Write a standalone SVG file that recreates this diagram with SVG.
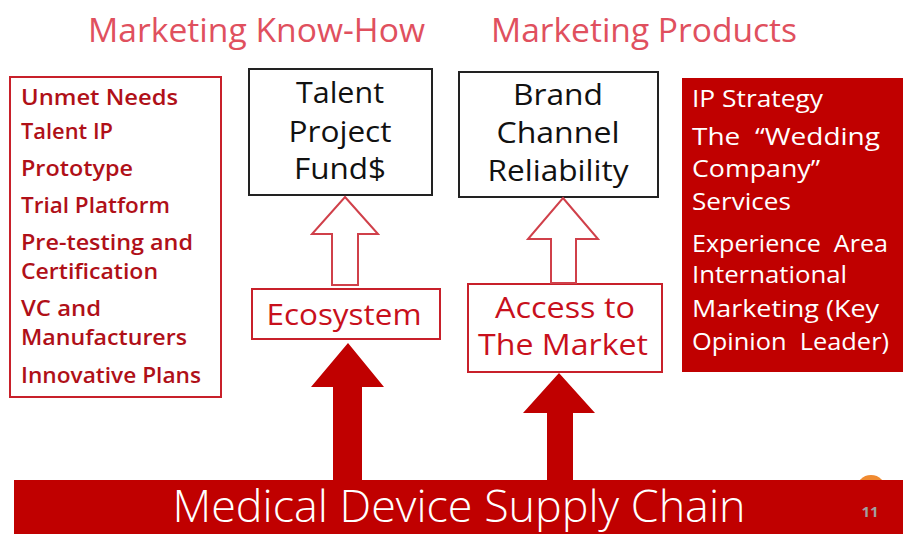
<svg xmlns="http://www.w3.org/2000/svg" width="903" height="534" viewBox="0 0 903 534">
<style>
text{font-family:"Open Sans","Noto Sans","Liberation Sans",sans-serif}
.title{font-size:32px;fill:#e0505e}
.lst{font-size:21px;fill:#b01018;font-weight:600}
.wht{font-size:24px;fill:#ffffff}
.blk{font-size:30px;fill:#111111;text-anchor:middle}
.red{font-size:30px;fill:#c8101c;text-anchor:middle}
.rbox{fill:#ffffff;stroke:#c8202a;stroke-width:2}
.kbox{fill:#ffffff;stroke:#222222;stroke-width:2}
.oarrow{fill:#ffffff;stroke:#d0404a;stroke-width:2}
.sarrow{fill:#c00000}
</style>
<rect width="903" height="534" fill="#ffffff"/>
<g id="titles">
<text class="title" x="88" y="42" textLength="337" lengthAdjust="spacingAndGlyphs">Marketing Know-How</text>
<text class="title" x="491" y="42" textLength="306" lengthAdjust="spacingAndGlyphs">Marketing Products</text>
</g>
<g id="left-list">
<rect class="rbox" x="10" y="77" width="211" height="320"/>
<text class="lst" x="21" y="105" textLength="157" lengthAdjust="spacingAndGlyphs">Unmet Needs</text>
<text class="lst" x="21" y="139" textLength="92" lengthAdjust="spacingAndGlyphs">Talent IP</text>
<text class="lst" x="21" y="176" textLength="112" lengthAdjust="spacingAndGlyphs">Prototype</text>
<text class="lst" x="21" y="213" textLength="149" lengthAdjust="spacingAndGlyphs">Trial Platform</text>
<text class="lst" x="21" y="250" textLength="172" lengthAdjust="spacingAndGlyphs">Pre-testing and</text>
<text class="lst" x="21" y="279" textLength="137" lengthAdjust="spacingAndGlyphs">Certification</text>
<text class="lst" x="21" y="316" textLength="80" lengthAdjust="spacingAndGlyphs">VC and</text>
<text class="lst" x="21" y="345" textLength="166" lengthAdjust="spacingAndGlyphs">Manufacturers</text>
<text class="lst" x="21" y="383" textLength="180" lengthAdjust="spacingAndGlyphs">Innovative Plans</text>
</g>
<g id="talent">
<rect class="kbox" x="249" y="69" width="183" height="126"/>
<text class="blk" x="340" y="103" textLength="88" lengthAdjust="spacingAndGlyphs">Talent</text>
<text class="blk" x="340" y="142" textLength="103" lengthAdjust="spacingAndGlyphs">Project</text>
<text class="blk" x="340" y="179" textLength="92" lengthAdjust="spacingAndGlyphs">Fund$</text>
</g>
<g id="brand">
<rect class="kbox" x="459" y="72" width="199" height="125"/>
<text class="blk" x="558" y="105" textLength="90" lengthAdjust="spacingAndGlyphs">Brand</text>
<text class="blk" x="558" y="143" textLength="123" lengthAdjust="spacingAndGlyphs">Channel</text>
<text class="blk" x="558" y="181" textLength="141" lengthAdjust="spacingAndGlyphs">Reliability</text>
</g>
<g id="right-list">
<rect x="682" y="78" width="221" height="294" fill="#c00000"/>
<text class="wht" x="692" y="107" textLength="131" lengthAdjust="spacingAndGlyphs">IP Strategy</text>
<text class="wht" x="692" y="145" textLength="188" lengthAdjust="spacingAndGlyphs" xml:space="preserve">The  “Wedding</text>
<text class="wht" x="692" y="177" textLength="128" lengthAdjust="spacingAndGlyphs">Company”</text>
<text class="wht" x="692" y="210" textLength="99" lengthAdjust="spacingAndGlyphs">Services</text>
<text class="wht" x="692" y="252" textLength="196" lengthAdjust="spacingAndGlyphs" xml:space="preserve">Experience  Area</text>
<text class="wht" x="692" y="283" textLength="155" lengthAdjust="spacingAndGlyphs">International</text>
<text class="wht" x="692" y="317" textLength="187" lengthAdjust="spacingAndGlyphs">Marketing (Key</text>
<text class="wht" x="692" y="350" textLength="197" lengthAdjust="spacingAndGlyphs" xml:space="preserve">Opinion  Leader)</text>
</g>
<g id="ecosystem">
<rect class="rbox" x="252" y="289" width="188" height="50"/>
<text class="red" x="344" y="325" textLength="155" lengthAdjust="spacingAndGlyphs">Ecosystem</text>
</g>
<g id="access">
<rect class="rbox" x="468" y="284" width="194" height="88"/>
<text class="red" x="565" y="318" textLength="140" lengthAdjust="spacingAndGlyphs">Access to</text>
<text class="red" x="563" y="355" textLength="170" lengthAdjust="spacingAndGlyphs">The Market</text>
</g>
<g id="connectors">
<polygon class="oarrow" points="345,197 378,234 358,234 358,285 332,285 332,234 312,234"/>
<polygon class="oarrow" points="563,198 598,239 576,239 576,283 551,283 551,239 528,239"/>
<polygon class="sarrow" points="348,343 384,387 362,387 362,482 333,482 333,387 311,387"/>
<polygon class="sarrow" points="559,373 595,413 573,413 573,482 547,482 547,413 523,413"/>
</g>
<g id="supply-chain">
<circle cx="871" cy="490" r="15" fill="#f08a30"/>
<rect x="14" y="480" width="889" height="54" fill="#c00000"/>
<text x="459" y="522" font-size="44" fill="#ffffff" text-anchor="middle" textLength="573" lengthAdjust="spacingAndGlyphs" style="font-weight:300">Medical Device Supply Chain</text>
<text x="870" y="517" font-size="15" font-weight="bold" fill="#a0a0a0" text-anchor="middle">11</text>
</g>
</svg>
